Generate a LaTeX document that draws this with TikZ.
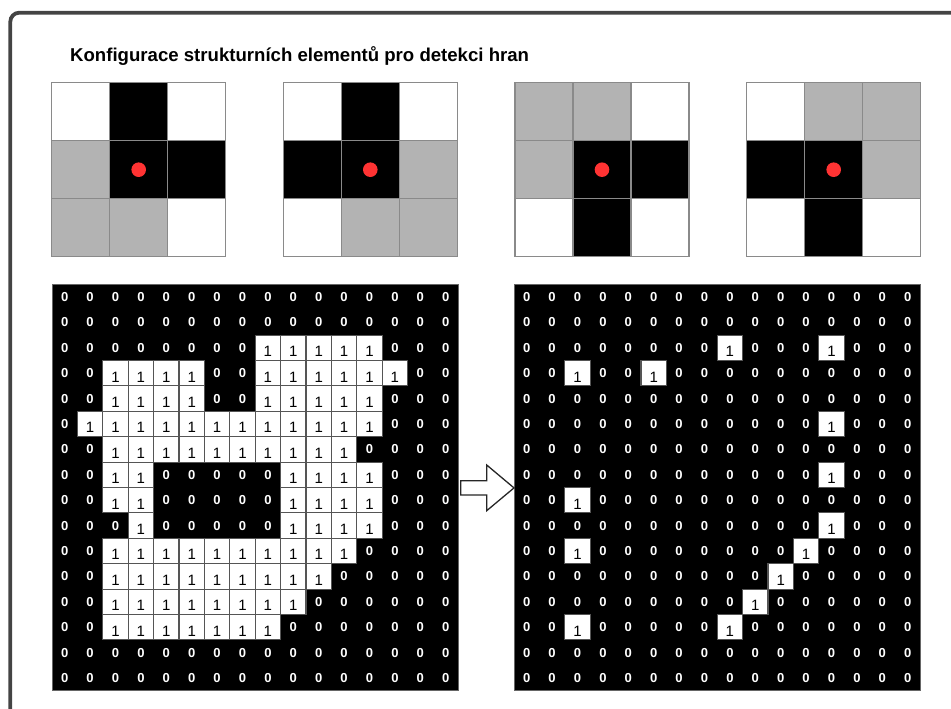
\documentclass[tikz,border=0pt]{standalone}
\usepackage{fontspec}
\setmainfont{Liberation Sans}
\definecolor{framegray}{HTML}{444444}
\definecolor{kgray}{HTML}{B3B3B3}
\definecolor{kline}{HTML}{8A8A8A}
\definecolor{dotred}{HTML}{FF3333}
\definecolor{cellline}{HTML}{555555}
\colorlet{kW}{white}
\colorlet{kB}{black}
\colorlet{kG}{kgray}
\newcommand\kernelgrid[3]{%
  \foreach \f [count=\i from 0] in {#3} {
    \pgfmathtruncatemacro\kr{int(\i/3)}
    \pgfmathtruncatemacro\kc{mod(\i,3)}
    \node[kcell, fill=k\f] (#1-\kr-\kc) at ({#2+58*(\kc+0.5)},{82.7+58*(\kr+0.5)}) {};
  }
  \node[reddot] (#1-dot) at ({#2+87},{82.7+87}) {};
}
\newcommand\bingrid[3]{%
  \node[gridbg] (#1-bg) at ({#2+203.2},{284.3+203.2}) {};
  \foreach \row [count=\r from 0] in {#3} {
    \foreach \v [count=\c from 0] in \row {
      \ifnum\v=1\relax
        \node[onecell] (#1-\r-\c) at ({#2+25.4*(\c+0.5)},{284.3+25.4*(\r+0.5)}) {\raisebox{-8.8pt}[0pt][0pt]{1}};
      \else
        \node[zerotext] (#1-\r-\c) at ({#2+25.4*(\c+0.5)},{284.3+25.4*(\r+0.5)}) {0};
      \fi
    }
  }
}
\begin{document}
\begin{tikzpicture}[x=1pt,y=-1pt,
  zerotext/.style={text=white, font=\bfseries\fontsize{13}{15}\selectfont, inner sep=0pt},
  onecell/.style={draw=cellline, line width=1.1pt, fill=white, minimum size=25.4pt, inner sep=0pt, font=\fontsize{15}{17}\selectfont},
  kcell/.style={draw=kline, line width=1.4pt, minimum size=58pt, inner sep=0pt},
  reddot/.style={circle, fill=dotred, minimum size=14.6pt, inner sep=0pt},
  gridbg/.style={fill=black, draw=black!60, line width=0.8pt, minimum size=406.4pt, inner sep=0pt},
  titlefont/.style={font=\bfseries\fontsize{18.6}{22}\selectfont, inner sep=0pt, anchor=base west}
]
\useasboundingbox (0,0) rectangle (951,709);
\draw[framegray, line width=3.8pt, rounded corners=9pt] (10.3,12.7) rectangle (990,740);
\node[titlefont] (title) at (70,61.7) {Konfigurace strukturních elementů pro detekci hran};

\kernelgrid{ka}{51.7}{W,B,W,G,B,B,G,G,W}
\kernelgrid{kb}{283.3}{W,B,W,B,B,G,W,G,G}
\kernelgrid{kc}{515}{G,G,W,G,B,B,W,B,W}
\kernelgrid{kd}{746.7}{W,G,G,B,B,G,W,B,W}

\bingrid{L}{52}{
{0,0,0,0,0,0,0,0,0,0,0,0,0,0,0,0},
{0,0,0,0,0,0,0,0,0,0,0,0,0,0,0,0},
{0,0,0,0,0,0,0,0,1,1,1,1,1,0,0,0},
{0,0,1,1,1,1,0,0,1,1,1,1,1,1,0,0},
{0,0,1,1,1,1,0,0,1,1,1,1,1,0,0,0},
{0,1,1,1,1,1,1,1,1,1,1,1,1,0,0,0},
{0,0,1,1,1,1,1,1,1,1,1,1,0,0,0,0},
{0,0,1,1,0,0,0,0,0,1,1,1,1,0,0,0},
{0,0,1,1,0,0,0,0,0,1,1,1,1,0,0,0},
{0,0,0,1,0,0,0,0,0,1,1,1,1,0,0,0},
{0,0,1,1,1,1,1,1,1,1,1,1,0,0,0,0},
{0,0,1,1,1,1,1,1,1,1,1,0,0,0,0,0},
{0,0,1,1,1,1,1,1,1,1,0,0,0,0,0,0},
{0,0,1,1,1,1,1,1,1,0,0,0,0,0,0,0},
{0,0,0,0,0,0,0,0,0,0,0,0,0,0,0,0},
{0,0,0,0,0,0,0,0,0,0,0,0,0,0,0,0}}

\bingrid{R}{514}{
{0,0,0,0,0,0,0,0,0,0,0,0,0,0,0,0},
{0,0,0,0,0,0,0,0,0,0,0,0,0,0,0,0},
{0,0,0,0,0,0,0,0,1,0,0,0,1,0,0,0},
{0,0,1,0,0,1,0,0,0,0,0,0,0,0,0,0},
{0,0,0,0,0,0,0,0,0,0,0,0,0,0,0,0},
{0,0,0,0,0,0,0,0,0,0,0,0,1,0,0,0},
{0,0,0,0,0,0,0,0,0,0,0,0,0,0,0,0},
{0,0,0,0,0,0,0,0,0,0,0,0,1,0,0,0},
{0,0,1,0,0,0,0,0,0,0,0,0,0,0,0,0},
{0,0,0,0,0,0,0,0,0,0,0,0,1,0,0,0},
{0,0,1,0,0,0,0,0,0,0,0,1,0,0,0,0},
{0,0,0,0,0,0,0,0,0,0,1,0,0,0,0,0},
{0,0,0,0,0,0,0,0,0,1,0,0,0,0,0,0},
{0,0,1,0,0,0,0,0,1,0,0,0,0,0,0,0},
{0,0,0,0,0,0,0,0,0,0,0,0,0,0,0,0},
{0,0,0,0,0,0,0,0,0,0,0,0,0,0,0,0}}

\draw[line width=1.3pt, fill=white, line join=miter, draw=black!85] (460.7,480.7) -- (486.7,480.7) -- (486.7,465) -- (514,487.9) -- (486.7,510.7) -- (486.7,495) -- (460.7,495) -- cycle;
\end{tikzpicture}
\end{document}
